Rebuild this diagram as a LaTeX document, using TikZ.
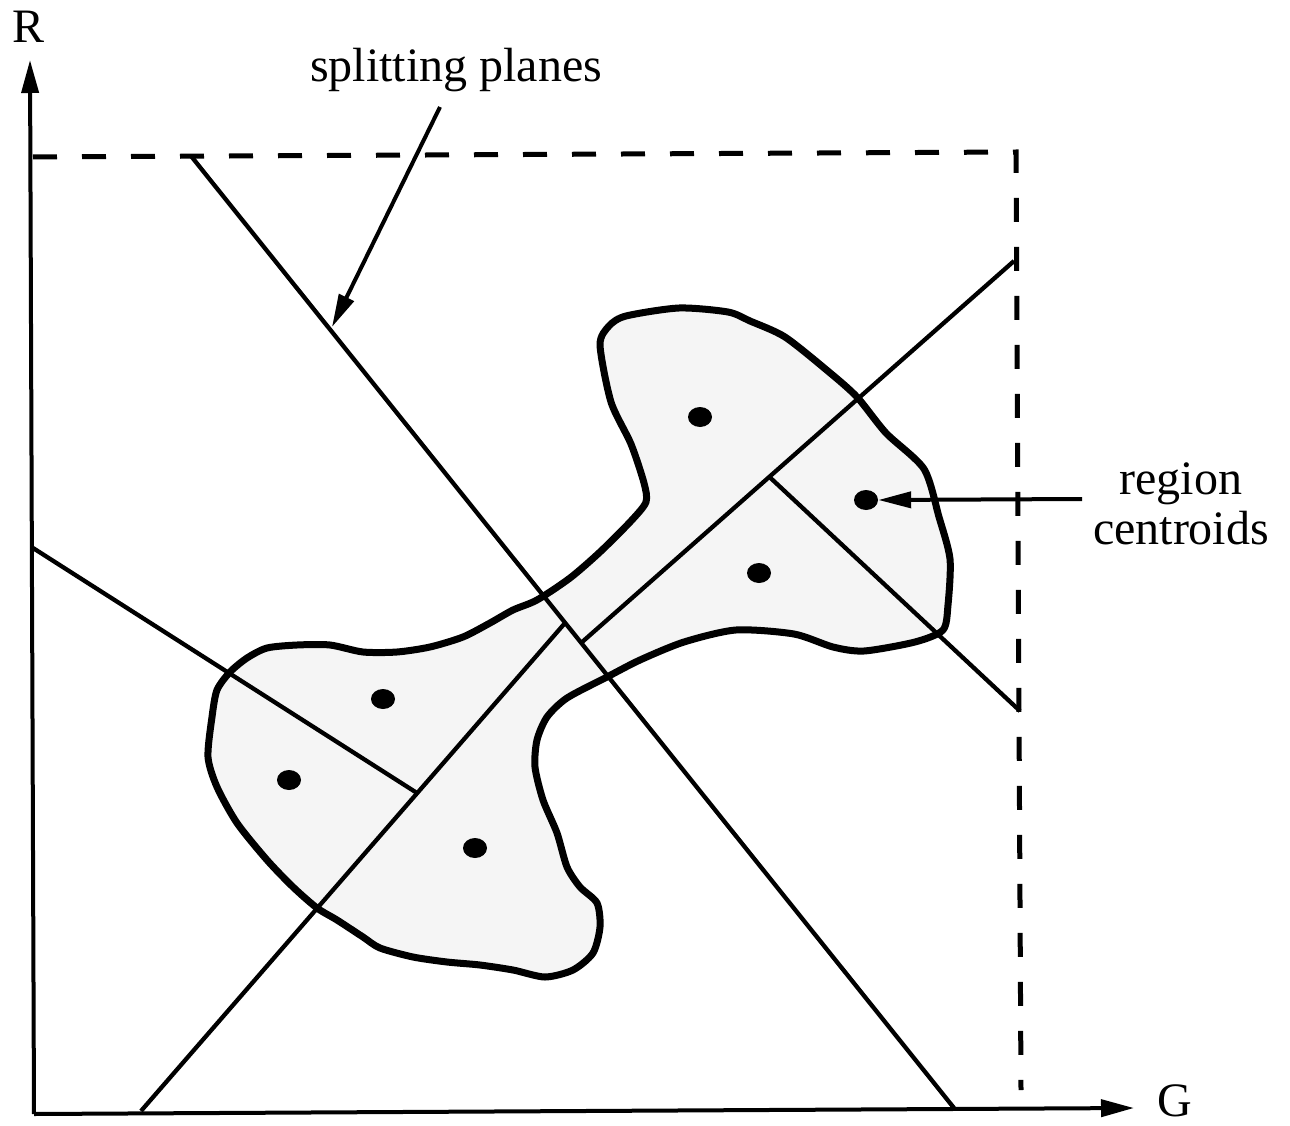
\documentclass[tikz,border=0pt]{standalone}
\usepackage{fontspec}
\setmainfont{Liberation Serif}
\usetikzlibrary{arrows.meta,shapes.geometric}
\begin{document}
\begin{tikzpicture}[x=1pt,y=-1pt,
  lbl/.style={font=\fontsize{48}{50}\selectfont, inner sep=0pt, anchor=base},
  axis/.style={line width=4pt, -{Triangle[length=33pt,width=17pt]}},
  plane/.style={line width=4.3pt},
  bound/.style={line width=5pt, dash pattern=on 24pt off 25pt},
  ptr/.style={line width=4pt, -{Triangle[length=33pt,width=16pt]}},
  blob/.style={line width=7pt, fill=black!4, line join=round},
  dot/.style={ellipse, fill=black, inner sep=0pt, minimum width=24pt, minimum height=20pt}]
\useasboundingbox (0,0) rectangle (1290,1126);

% the shaded region
\draw[blob] plot[smooth cycle, tension=0.45] coordinates {
 (600,345) (609,326) (626,316) (679,308) (728,312) (750,321) (785,337)
 (829,372) (857,397) (886,433) (924,469) (939,517) (950,559) (948,605)
 (943,630) (915,642) (864,651) (833,647) (794,634) (736,630) (684,642)
 (640,660) (607,677) (567,698) (547,717) (537,740) (535,767) (543,800)
 (557,833) (567,867) (580,887) (597,903) (600,927) (593,953) (573,970)
 (545,977) (513,970) (480,965) (447,962) (413,957) (380,948) (363,937)
 (337,920) (317,908) (293,887) (267,860) (237,823) (217,787) (208,757)
 (212,717) (217,690) (230,672) (247,658) (267,648) (297,645) (330,645)
 (363,652) (397,652) (430,647) (463,637) (490,623) (513,610) (537,600)
 (570,578) (600,552) (631,521) (646,502) (644,483) (631,444) (611,402)};

% coordinates
\coordinate (O) at (34,1114);
\coordinate (Rtip) at (30,60);
\coordinate (Gtip) at (1134,1108);
\coordinate (bx1) at (33,157);
\coordinate (bx2) at (1016,152);
\coordinate (bx3) at (1021,1090);
\coordinate (bp1) at (191,156);
\coordinate (bp2) at (954,1108);
\coordinate (ll1) at (141,1111);
\coordinate (ll2) at (565,623);
\coordinate (lf1) at (33,548);
\coordinate (lf2) at (417,793);
\coordinate (ur1) at (581,643);
\coordinate (urc) at (769.5,477);
\coordinate (ur2) at (1014,261);
\coordinate (cr2) at (1020,711);
\coordinate (sptip) at (332,327);
\coordinate (spfrom) at (440,107);
\coordinate (rcfrom) at (1082,499);

% bounding dashed box
\draw[bound] (bx1) -- (bx2) -- (bx3);

% axes
\draw[axis] (O) -- (Rtip);
\draw[axis] (O) -- (Gtip);

% splitting planes
\draw[plane] (bp1) -- (bp2);
\draw[plane] (ll1) -- (ll2);
\draw[plane] (lf1) -- (lf2);
\draw[plane] (ur1) -- (ur2);
\draw[plane] (urc) -- (cr2);

% centroids
\node[dot] (d1) at (700,417) {};
\node[dot] (d2) at (866,500) {};
\node[dot] (d3) at (759,573) {};
\node[dot] (d4) at (383,699) {};
\node[dot] (d5) at (289,780) {};
\node[dot] (d6) at (475,848) {};

% labels
\node[lbl] (Rl) at (29,43) {R};
\node[lbl] (Gl) at (1175,1116) {G};
\node[lbl] (sp) at (456,82) {splitting planes};
\node[lbl] (reg) at (1181,494) {region};
\node[lbl] (cen) at (1181,544) {centroids};

% pointers
\draw[ptr] (spfrom) -- (sptip);
\draw[ptr] (rcfrom) -- (d2.east);
\end{tikzpicture}
\end{document}
